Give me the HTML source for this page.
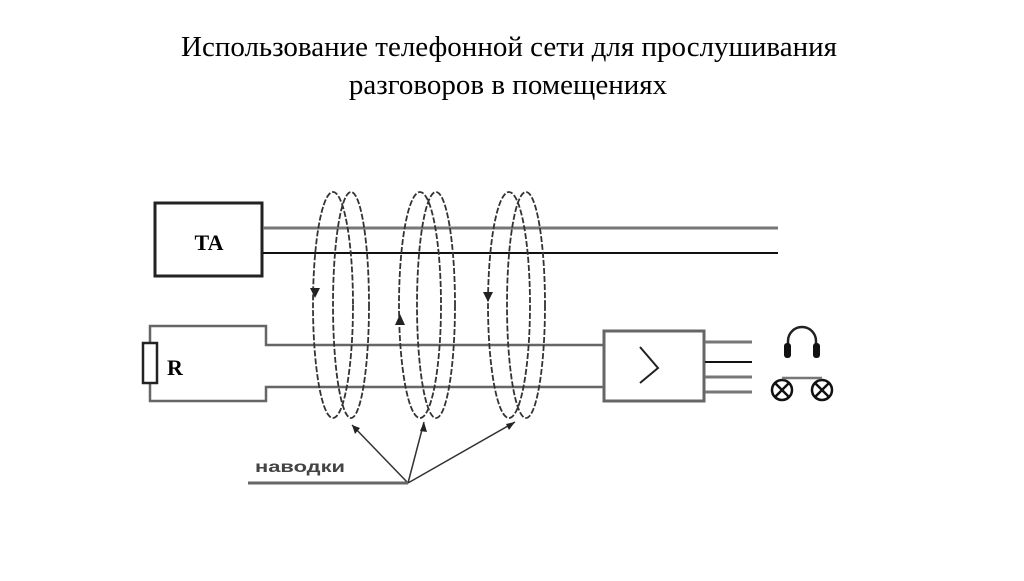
<!DOCTYPE html>
<html><head><meta charset="utf-8"><style>
body{margin:0;background:#fff;width:1024px;height:576px;overflow:hidden}
</style></head><body>
<svg width="1024" height="576" viewBox="0 0 1024 576" xmlns="http://www.w3.org/2000/svg">
<text x="509" y="56" font-family="Liberation Serif, serif" font-size="29" text-anchor="middle">Использование телефонной сети для прослушивания</text>
<text x="508" y="94" font-family="Liberation Serif, serif" font-size="29" text-anchor="middle">разговоров в помещениях</text>
<g fill="none">
<rect x="155" y="203" width="107" height="73" stroke="#222" stroke-width="3"/>
<line x1="263" y1="228" x2="778" y2="228" stroke="#777" stroke-width="3"/>
<line x1="263" y1="253" x2="778" y2="253" stroke="#111" stroke-width="2"/>
<polyline points="150,342 150,326 266,326 266,345 603,345" stroke="#666" stroke-width="2.5"/>
<polyline points="150,383 150,401 266,401 266,387 603,387" stroke="#666" stroke-width="2.5"/>
<rect x="143" y="343" width="14" height="40" stroke="#222" stroke-width="2.5" fill="#fff"/>
<rect x="604" y="331" width="100" height="70" stroke="#666" stroke-width="3"/>
<polyline points="640,347 658,368 640,383" stroke="#222" stroke-width="2"/>
<line x1="705" y1="342" x2="752" y2="342" stroke="#777" stroke-width="3"/>
<line x1="705" y1="362" x2="752" y2="362" stroke="#111" stroke-width="2"/>
<line x1="705" y1="377" x2="752" y2="377" stroke="#777" stroke-width="3"/>
<line x1="705" y1="392" x2="752" y2="392" stroke="#777" stroke-width="3"/>
<g stroke="#333" stroke-width="1.8" stroke-dasharray="6,2">
<ellipse cx="333" cy="305" rx="20" ry="113"/><ellipse cx="351" cy="305" rx="18" ry="113"/>
<ellipse cx="420" cy="305" rx="21" ry="113"/><ellipse cx="436" cy="305" rx="19" ry="113"/>
<ellipse cx="509" cy="305" rx="21" ry="113"/><ellipse cx="526" cy="305" rx="19" ry="113"/>
</g>
<path d="M788 350 v-9 a14 14 0 0 1 28 0 v9" stroke="#222" stroke-width="2.5"/>
<line x1="408" y1="483" x2="352" y2="425" stroke="#333" stroke-width="1.5"/>
<line x1="408" y1="483" x2="424" y2="422" stroke="#333" stroke-width="1.5"/>
<line x1="408" y1="483" x2="515" y2="422" stroke="#333" stroke-width="1.5"/>
<line x1="248" y1="483" x2="408" y2="483" stroke="#666" stroke-width="3"/>
<g stroke="#111" stroke-width="2.5">
<circle cx="782" cy="390" r="10"/><circle cx="822" cy="390" r="10"/>
<path d="M775 383l14 14M789 383l-14 14M815 383l14 14M829 383l-14 14"/>
</g>
<line x1="782" y1="378" x2="822" y2="378" stroke="#777" stroke-width="2.5"/>
</g>
<rect x="784" y="343" width="7" height="15" rx="3" fill="#111"/>
<rect x="813" y="343" width="7" height="15" rx="3" fill="#111"/>
<path d="M310 288l5 10 5-10z M395 325l5-11 5 11z M483 292l5 10 5-10z" fill="#222"/>
<path d="M352 425l3 9 5-6z M424 422l-4 9 7 1z M515 422l-9 2 3 6z" fill="#222"/>
<text x="209" y="250" font-family="Liberation Serif, serif" font-weight="bold" font-size="22" text-anchor="middle">TA</text>
<text x="167" y="375" font-family="Liberation Serif, serif" font-weight="bold" font-size="22">R</text>
<text x="255" y="472" font-family="Liberation Sans, sans-serif" font-size="16" font-weight="bold" fill="#444" textLength="90" lengthAdjust="spacingAndGlyphs">наводки</text>
</svg>
</body></html>
